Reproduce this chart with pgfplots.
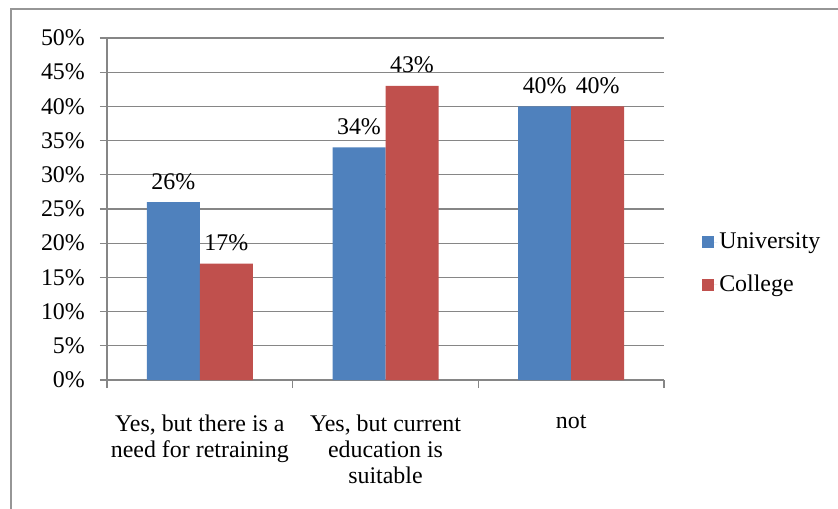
\documentclass[border=0pt]{standalone}
\usepackage{fontspec}
\setmainfont{Liberation Serif}
\usepackage{pgfplots}
\pgfplotsset{compat=1.18}
\definecolor{uni}{RGB}{79,129,189}
\definecolor{col}{RGB}{192,80,77}
\definecolor{gridgray}{RGB}{134,134,134}
\definecolor{framegray}{RGB}{150,150,150}
\begin{document}
\fontsize{24}{26}\selectfont
\begin{tikzpicture}
\useasboundingbox (-107bp,-129bp) rectangle (731bp,380bp);
\draw[framegray, line width=2.5bp] (-96bp,-129bp) -- (-96bp,371bp) -- (731bp,371bp);
\begin{axis}[
  at={(0,0)}, anchor=south west,
  scale only axis, width=557bp, height=342bp,
  ybar=0pt, bar width=53bp,
  xmin=-0.5, xmax=2.5, ymin=0, ymax=50,
  axis lines*=left,
  axis line style={draw=gridgray, line width=1.2bp},
  ytick={0,5,...,50},
  yticklabel={\pgfmathprintnumber[assume math mode=true]{\tick}\%},
  yticklabel style={xshift=-7bp},
  ymajorgrids, grid style={gridgray, line width=1.2bp},
  tick align=outside, major tick length=7bp,
  tick style={gridgray, line width=1.2bp},
  xtick={0,1,2},
  xticklabels={{Yes, but there is a\\need for retraining},{Yes, but current\\education is\\suitable},{not}},
  xticklabel style={align=center, yshift=-20bp},
  major x tick style={draw=none},
  minor xtick={-0.5,0.5,1.5,2.5}, minor tick length=8bp,
  minor x tick style={draw=gridgray, line width=1.2bp},
  nodes near coords={\pgfmathprintnumber[assume math mode=true]{\pgfplotspointmeta}\%},
  every node near coord/.append style={anchor=base, yshift=13bp},
  legend style={at={(rel axis cs:1.063,0.34)}, anchor=west, draw=none, fill=none,
    row sep=19bp, legend cell align=left},
  legend image code/.code={\fill[#1] (0bp,-6bp) rectangle (12bp,6bp);
    \path (0bp,0bp) -- (15bp,0bp);},
]
\addplot[fill=uni, draw=none] coordinates {(0,26) (1,34) (2,40)};
\addplot[fill=col, draw=none] coordinates {(0,17) (1,43) (2,40)};
\legend{University, College}
\end{axis}
\end{tikzpicture}
\end{document}
